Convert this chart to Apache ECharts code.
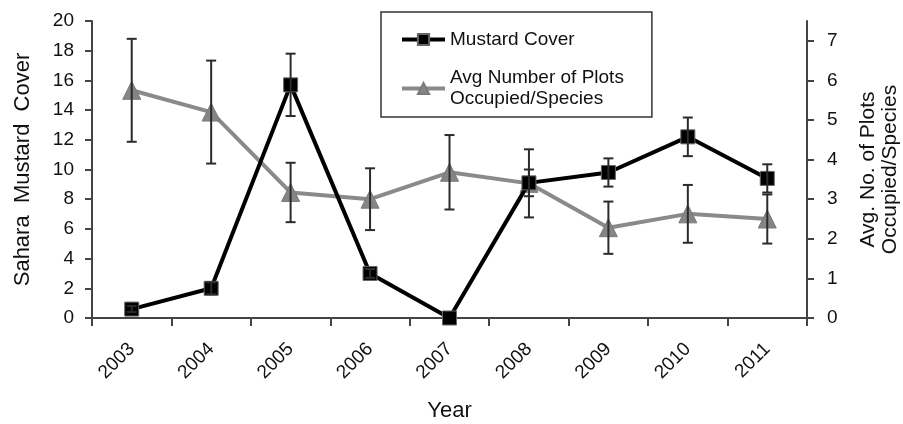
<!DOCTYPE html>
<html>
<head>
<meta charset="utf-8">
<script src="https://cdn.jsdelivr.net/npm/echarts@6/dist/echarts.min.js"></script>
<style>
html,body{margin:0;padding:0;background:#fff;}
#chart{width:903px;height:424px;}
</style>
</head>
<body>
<div id="chart"></div>
<script>
const years = ['2003','2004','2005','2006','2007','2008','2009','2010','2011'];
const mustardCover = [0.6, 2.0, 15.7, 3.0, 0.0, 9.1, 9.8, 12.2, 9.4];
const mustardErr = [0.2, 0.4, 2.1, 0.3, 0.0, 0.9, 0.95, 1.3, 0.95];
const avgPlots = [5.75, 5.2, 3.17, 3.0, 3.68, 3.4, 2.28, 2.63, 2.5];
const avgPlotsErr = [1.3, 1.3, 0.75, 0.78, 0.94, 0.86, 0.66, 0.73, 0.62];
const leftTicks = {min: 0, max: 20, interval: 2};
const rightTicks = {min: 0, max: 7.5, interval: 1};
const rightTickValues = [0, 1, 2, 3, 4, 5, 6, 7];

const FONT = '"Liberation Sans", Arial, sans-serif';

function errData(vals, errs) {
  return vals.map((v, i) => [i, v - errs[i], v + errs[i], errs[i]]);
}
function errRender(params, api) {
  const e = api.value(3);
  if (!e) return null;
  const x = api.value(0);
  const top = api.coord([x, api.value(2)]);
  const bot = api.coord([x, api.value(1)]);
  const w = 5;
  const st = {stroke: '#2b2b2b', lineWidth: 2};
  return {
    type: 'group',
    children: [
      {type: 'line', shape: {x1: top[0], y1: top[1], x2: bot[0], y2: bot[1]}, style: st},
      {type: 'line', shape: {x1: top[0] - w, y1: top[1], x2: top[0] + w, y2: top[1]}, style: st},
      {type: 'line', shape: {x1: bot[0] - w, y1: bot[1], x2: bot[0] + w, y2: bot[1]}, style: st}
    ]
  };
}

const axisLineStyle = {color: '#444', width: 2};
const chart = echarts.init(document.getElementById('chart'), null, {renderer: 'canvas'});
chart.setOption({
  animation: false,
  backgroundColor: '#fff',
  textStyle: {fontFamily: FONT},
  grid: {left: 92, right: 96, top: 21, bottom: 106, outerBoundsMode: 'none', containLabel: false},
  legend: {
    left: 381, top: 12,
    orient: 'vertical',
    backgroundColor: '#fff',
    borderColor: '#333', borderWidth: 1.5,
    padding: [18, 28, 0, 19],
    itemGap: 11,
    itemWidth: 43, itemHeight: 14,
    lineStyle: {width: 4},
    textStyle: {fontFamily: FONT, fontSize: 19, color: '#111'},
    data: [
      {name: 'Mustard Cover'},
      {name: 'Avg Number of Plots\nOccupied/Species', textStyle: {padding: [19, 0, -4, 0], lineHeight: 21}}
    ]
  },
  xAxis: {
    type: 'category',
    data: years,
    boundaryGap: true,
    name: 'Year',
    nameLocation: 'middle',
    nameGap: 82,
    nameTextStyle: {fontFamily: FONT, fontSize: 22, color: '#111'},
    axisLine: {lineStyle: axisLineStyle},
    axisTick: {show: true, length: 8, lineStyle: {color: '#444', width: 2}},
    axisLabel: {rotate: 45, fontSize: 19, color: '#111', margin: 28, fontFamily: FONT},
    splitLine: {show: false}
  },
  yAxis: [
    {
      type: 'value',
      min: leftTicks.min, max: leftTicks.max, interval: leftTicks.interval,
      name: 'Sahara  Mustard  Cover',
      nameLocation: 'middle',
      nameRotate: 90,
      nameGap: 58,
      nameTextStyle: {fontFamily: FONT, fontSize: 22, color: '#111'},
      axisLine: {show: true, lineStyle: axisLineStyle},
      axisTick: {show: true, length: 7, lineStyle: {color: '#444', width: 2}},
      axisLabel: {fontSize: 19, color: '#111', margin: 18, fontFamily: FONT},
      splitLine: {show: false}
    },
    {
      type: 'value',
      position: 'right',
      min: rightTicks.min, max: rightTicks.max, interval: rightTicks.interval,
      name: 'Avg. No. of Plots\nOccupied/Species',
      nameLocation: 'middle',
      nameRotate: 90,
      nameGap: 50,
      nameTextStyle: {fontFamily: FONT, fontSize: 21, color: '#111', lineHeight: 22},
      axisLine: {show: true, lineStyle: axisLineStyle},
      axisTick: {show: true, length: 7, customValues: rightTickValues, lineStyle: {color: '#444', width: 2}},
      axisLabel: {fontSize: 19, color: '#111', margin: 20, fontFamily: FONT, customValues: rightTickValues},
      splitLine: {show: false}
    }
  ],
  series: [
    {
      name: 'Avg Number of Plots\nOccupied/Species',
      type: 'line',
      yAxisIndex: 1,
      data: avgPlots,
      symbol: 'triangle',
      symbolSize: 18,
      itemStyle: {color: '#858585', borderColor: '#7a7a7a', borderWidth: 1},
      lineStyle: {color: '#8a8a8a', width: 4},
      z: 3
    },
    {
      name: 'Mustard Cover',
      type: 'line',
      yAxisIndex: 0,
      data: mustardCover,
      symbol: 'rect',
      symbolSize: 14,
      itemStyle: {color: '#000', borderColor: '#666', borderWidth: 1},
      lineStyle: {color: '#000', width: 4},
      z: 4
    },
    {
      name: 'mustardErr',
      type: 'custom',
      yAxisIndex: 0,
      data: errData(mustardCover, mustardErr),
      renderItem: errRender,
      encode: {x: 0, y: [1, 2]},
      z: 5,
      silent: true
    },
    {
      name: 'avgErr',
      type: 'custom',
      yAxisIndex: 1,
      data: errData(avgPlots, avgPlotsErr),
      renderItem: errRender,
      encode: {x: 0, y: [1, 2]},
      z: 5,
      silent: true
    }
  ]
});
</script>
</body>
</html>
